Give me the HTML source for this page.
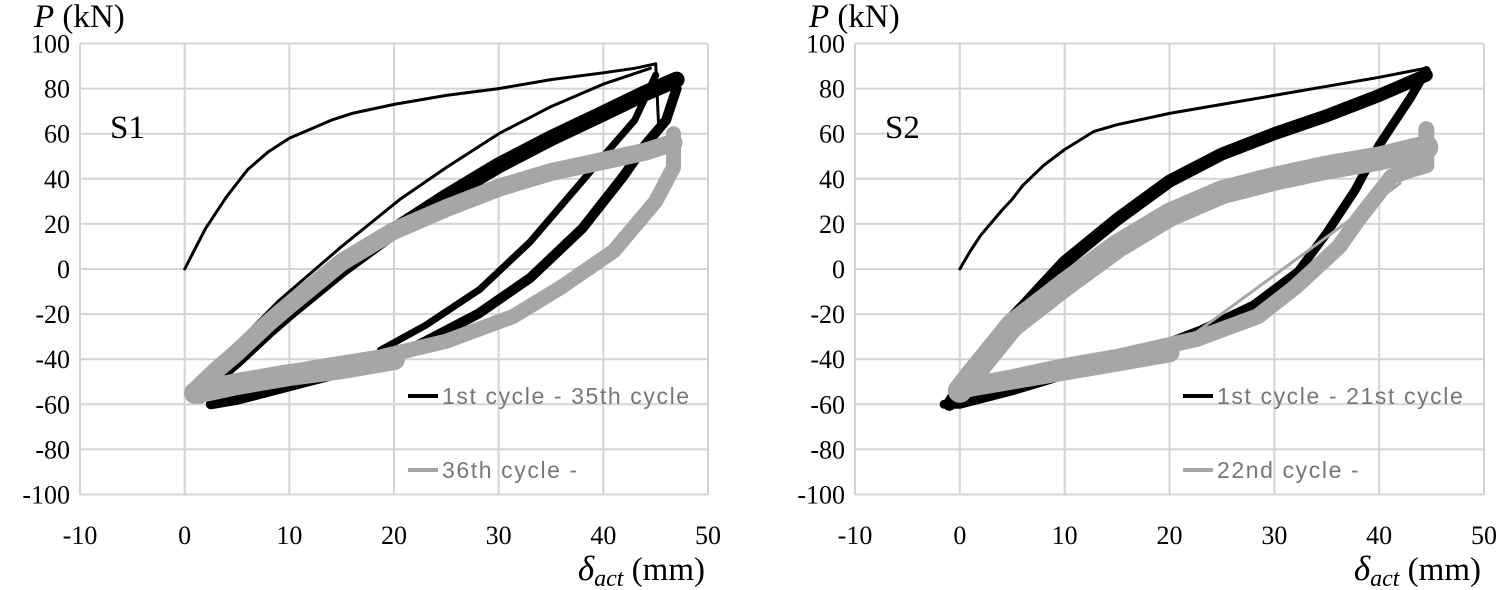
<!DOCTYPE html>
<html><head><meta charset="utf-8"><style>
html,body{margin:0;padding:0;background:#fff;}
svg{display:block;}
.tk{font-family:"Liberation Serif",serif;font-size:26px;fill:#000;}
.lg{font-family:"Liberation Sans",sans-serif;font-size:23px;letter-spacing:1.6px;fill:#777;}
.tt{font-family:"Liberation Serif",serif;font-size:33px;fill:#000;}
</style></head><body>
<svg id="c" width="1498" height="590" viewBox="0 0 1498 590" xmlns="http://www.w3.org/2000/svg"></svg>
<script>
// ---- data ----
const xTicks = [-10,0,10,20,30,40,50];
const yTicks = [100,80,60,40,20,0,-20,-40,-60,-80,-100];

// S1
const s1EnvX = [0,1,2,4,6,8,10,12,14,16,18,20,25,30,35,40,43,45,45.3];
const s1EnvY = [0,9,18,32,44,52,58,62,66,69,71,73,77,80,84,87,89,91,62];
const s1ThinX = [1,5,9,12,15,20.6,25,30,35,40,44.5];
const s1ThinY = [-56,-33,-14,-2,10,31,45,60,72,82,89];
const s1BlkUpX = [1.5,3,5,8,10,15,20,25,30,35,40,44,47];
const s1BlkUpY = [-56,-48,-40,-27,-19,0,17,32,46,58,69,78,84];
const s1BlkLoX = [47,46,44,41.9,38,33,28,21.8,15,10,5,2.5];
const s1BlkLoY = [80,66,55,41,18,-4,-20,-35,-46,-52,-58,-60];
const s1BlkLo2X = [45,43,40,37.8,33,28.2,23,18.7];
const s1BlkLo2Y = [86,66,50,38,12,-9,-25,-36];
const s1GryUpX = [1,3,5,8,10,15,20,25,30,35,40,44,46.7];
const s1GryUpY = [-54,-45,-37,-24,-16,3,17,27,36,43,48,52,56];
const s1GryLoX = [46.7,46.7,45,41,36,31.4,25,18.7,12,7,2.7,1];
const s1GryLoY = [60,45,30,8,-8,-21,-32,-39,-44,-49,-54,-55];
const s1GryBotX = [1,5,10,15,20];
const s1GryBotY = [-55,-51,-47,-44,-40];

// S2
const s2EnvX = [0,1,2,4,5,6,8,10,12.8,15,20,25,30,35,40,44.4];
const s2EnvY = [0,8,15,26,31,37,46,53,61,64,69,73,77,81,85,89];
const s2BlkUpX = [-1,1,5,10,15,20,25,30,35,40,44.5];
const s2BlkUpY = [-60,-45,-22,3,22,39,51,60,68,77,86];
const s2BlkLoX = [44.5,43,40,37.7,35,32.3,28,23,18,10,5,0,-1.5];
const s2BlkLoY = [88,76,55,35,16,-1,-16,-27,-36,-47,-54,-60,-60];
const s2GryUpX = [0,1,5,10,15,20,25,30,35,40,44.5];
const s2GryUpY = [-54,-48,-25,-7,10,24,34,40,45,49,54];
const s2GryLoX = [44.5,44.5,43,41.2,38,36.2,32,28.4,22.6,15,10,5,0];
const s2GryLoY = [62,46,44,41,22,10,-8,-21,-31,-39,-43,-48,-54];
const s2GryBotX = [0,5,10,15,20];
const s2GryBotY = [-53,-49,-45,-41,-37];
const s2GryStX = [22,42];
const s2GryStY = [-30,38];

// ---- drawing ----
const svg = document.getElementById('c');
const NS = 'http://www.w3.org/2000/svg';
function el(tag, attrs, parent){const e=document.createElementNS(NS,tag);for(const k in attrs)e.setAttribute(k,attrs[k]);(parent||svg).appendChild(e);return e;}

function panel(p){
  const g = el('g',{});
  
  
  const sx = v => p.x0 + (v+10)*(p.x1-p.x0)/60;
  const sy = v => 269 + (-v)*(495-44)/200;
  for(const t of yTicks){
    const l = el('line',{x1:p.x0,x2:p.x1,y1:sy(t),y2:sy(t),stroke:'#d4d4d4','stroke-width':2},g);
    
    
    const tx = el('text',{x:p.x0-10,y:sy(t)+9,'text-anchor':'end',class:'tk'},g);
    tx.textContent = t;
    
    
  }
  for(const t of xTicks){
    const l = el('line',{x1:sx(t),x2:sx(t),y1:44,y2:495,stroke:'#d4d4d4','stroke-width':2},g);
    
    
    const tx = el('text',{x:sx(t),y:544,'text-anchor':'middle',class:'tk'},g);
    tx.textContent = t;
    
    
  }
  function line(xs,ys,color,w,name){
    const d = xs.map((x,i)=>(i?'L':'M')+sx(x).toFixed(1)+','+sy(ys[i]).toFixed(1)).join(' ');
    const pa = el('path',{d:d,fill:'none',stroke:color,'stroke-width':w,'stroke-linejoin':'round','stroke-linecap':'round'},g);
    
    
  }
  for(const s of p.series) line(s[0],s[1],s[2],s[3],s[4]);
  const st = el('text',{x:p.x0+30,y:138,class:'tt'},g);
  st.textContent = p.label;
  
  
  const yt = el('text',{x:p.x0-46,y:27,class:'tt'},g);
  yt.innerHTML = '<tspan font-style="italic">P</tspan> (kN)';
  
  
  const xt = el('text',{x:p.x1-3,y:580,'text-anchor':'end',class:'tt'},g);
  xt.innerHTML = '<tspan font-style="italic" font-size="35">δ</tspan><tspan font-style="italic" font-size="24" dy="6">act</tspan><tspan dy="-6"> (mm)</tspan>';
  
  
  const lx = p.x0+328;
  const l1 = el('line',{x1:lx,x2:lx+30,y1:396,y2:396,stroke:'#000','stroke-width':4},g);
  
  
  const t1 = el('text',{x:lx+34,y:404,class:'lg'},g);
  t1.textContent = p.leg1;
  
  
  const l2 = el('line',{x1:lx,x2:lx+30,y1:470,y2:470,stroke:'#a6a6a6','stroke-width':4},g);
  
  
  const t2 = el('text',{x:lx+34,y:478,class:'lg'},g);
  t2.textContent = p.leg2;
  
  
}

panel({name:'chart-s1',x0:80,x1:708,label:'S1',leg1:'1st cycle - 35th cycle',leg2:'36th cycle -',
  series:[
    [s1EnvX,s1EnvY,'#000',3,'s1-envelope'],
    [s1ThinX,s1ThinY,'#000',3,'s1-first-cycle'],
    [s1BlkLoX,s1BlkLoY,'#000',10,'s1-black-unload'],
    [s1BlkLo2X,s1BlkLo2Y,'#000',7,'s1-black-unload-2'],
    [s1BlkUpX,s1BlkUpY,'#000',16,'s1-black-reload'],
    [s1GryBotX,s1GryBotY,'#a6a6a6',22,'s1-gray-bottom-band'],
    [s1GryLoX,s1GryLoY,'#a6a6a6',15,'s1-gray-unload'],
    [s1GryUpX,s1GryUpY,'#a6a6a6',18,'s1-gray-reload']
  ]});
panel({name:'chart-s2',x0:855,x1:1484,label:'S2',leg1:'1st cycle - 21st cycle',leg2:'22nd cycle -',
  series:[
    [s2EnvX,s2EnvY,'#000',3,'s2-envelope'],
    [s2BlkLoX,s2BlkLoY,'#000',9,'s2-black-unload'],
    [s2BlkUpX,s2BlkUpY,'#000',13,'s2-black-reload'],
    [s2GryStX,s2GryStY,'#a6a6a6',3,'s2-gray-straight'],
    [s2GryBotX,s2GryBotY,'#a6a6a6',20,'s2-gray-bottom-band'],
    [s2GryLoX,s2GryLoY,'#a6a6a6',16,'s2-gray-unload'],
    [s2GryUpX,s2GryUpY,'#a6a6a6',24,'s2-gray-reload']
  ]});
</script>
</body></html>
